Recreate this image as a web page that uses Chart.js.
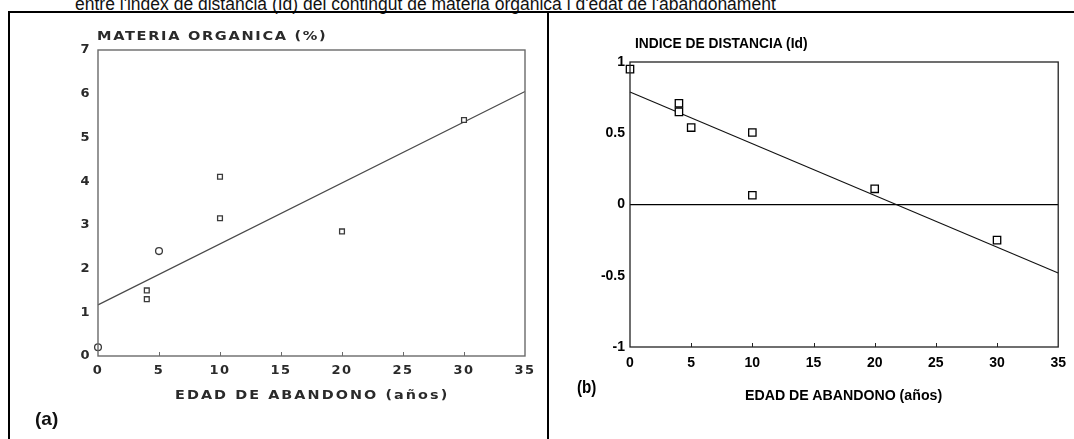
<!DOCTYPE html>
<html>
<head>
<meta charset="utf-8">
<script src="https://cdn.jsdelivr.net/npm/chart.js@4/dist/chart.umd.min.js"></script>
<style>
  html, body { margin: 0; padding: 0; background: #fff; }
  body { width: 1074px; height: 439px; position: relative; overflow: hidden; }
  .txt { position: absolute; white-space: nowrap; line-height: 1; }
  .rule { position: absolute; background: #000; }
  canvas { position: absolute; top: 0; }
  #header { left: 75px; top: -6px; font: 17.5px "Liberation Sans", Arial, sans-serif; color: #111; }
  #titleA { left: 97px; top: 28px; font: bold 13px "DejaVu Sans", sans-serif; color: #2a2a2a;
            letter-spacing: 1.5px; transform: scaleX(1.12); transform-origin: 0 0; }
  #xTitleA { left: 175px; top: 387px; font: bold 12.5px "DejaVu Sans", sans-serif; color: #2a2a2a;
             letter-spacing: 1.8px; transform: scaleX(1.15); transform-origin: 0 0; }
  #tagA { left: 35px; top: 408px; font: bold 19px "Liberation Sans", Arial, sans-serif; color: #111; }
  #titleB { left: 635px; top: 34px; font: bold 15px "Liberation Sans", Arial, sans-serif; color: #000;
            transform: scaleX(0.92); transform-origin: 0 0; }
  #xTitleB { left: 745px; top: 386px; font: bold 15px "Liberation Sans", Arial, sans-serif; color: #000;
             transform: scaleX(0.945); transform-origin: 0 0; }
  #tagB { left: 577px; top: 376px; font: bold 19px "Liberation Sans", Arial, sans-serif; color: #000;
          transform: scaleX(0.8); transform-origin: 0 0; }
</style>
</head>
<body>
<div id="header" class="txt">entre l'index de distancia (Id) del contingut de materia organica i d'edat de l'abandonament</div>

<!-- outer frame and divider between the two panels -->
<div class="rule" style="left:8px; top:11px; width:1066px; height:2px;"></div>
<div class="rule" style="left:8px; top:11px; width:2px; height:428px;"></div>
<div class="rule" style="left:547px; top:11px; width:2px; height:428px;"></div>

<canvas id="chartA" width="547" height="439" style="left:0"></canvas>
<canvas id="chartB" width="525" height="439" style="left:549px"></canvas>

<div id="titleA" class="txt">MATERIA ORGANICA (%)</div>
<div id="xTitleA" class="txt">EDAD DE ABANDONO (años)</div>
<div id="tagA" class="txt">(a)</div>
<div id="titleB" class="txt">INDICE DE DISTANCIA (Id)</div>
<div id="xTitleB" class="txt">EDAD DE ABANDONO (años)</div>
<div id="tagB" class="txt">(b)</div>

<script>
// ---- panel (a): organic matter (%) against years since abandonment ----
const agesA = [0, 4, 4, 5, 10, 10, 20, 30];
const organicMatter = [0.2, 1.5, 1.3, 2.4, 4.1, 3.15, 2.85, 5.4];
const markersA = ['circle', 'rect', 'rect', 'circle', 'rect', 'rect', 'rect', 'rect'];
const fitAgesA = [0, 35];
const fitOrganic = [1.17, 6.05];
const yTicksA = [0, 1, 2, 3, 4, 5, 6, 7];

// ---- panel (b): distance index (Id) against years since abandonment ----
const agesB = [0, 4, 4, 5, 10, 10, 20, 30];
const distanceIndex = [0.95, 0.71, 0.65, 0.54, 0.505, 0.065, 0.11, -0.25];
const fitAgesB = [0, 35];
const fitDistance = [0.79, -0.48];
const yTicksB = [-1, -0.5, 0, 0.5, 1];
const yTickLabelsB = ['-1', '-0.5', '0', '0.5', '1'];

// shared x axis ticks
const xTicks = [0, 5, 10, 15, 20, 25, 30, 35];

const pts = (xs, ys) => xs.map((x, i) => ({ x, y: ys[i] }));

// plot frame plus the short inward tick marks on the bottom axis
function framePlugin(color, width, tickLen) {
  return {
    id: 'frame',
    afterDraw(chart) {
      const { ctx, chartArea: a, scales } = chart;
      ctx.save();
      ctx.strokeStyle = color;
      ctx.lineWidth = width;
      ctx.strokeRect(a.left, a.top, a.right - a.left, a.bottom - a.top);
      ctx.lineWidth = 1;
      xTicks.slice(1, -1).forEach(v => {
        const px = Math.round(scales.x.getPixelForValue(v)) + 0.5;
        ctx.beginPath();
        ctx.moveTo(px, a.bottom);
        ctx.lineTo(px, a.bottom - tickLen);
        ctx.stroke();
      });
      ctx.restore();
    }
  };
}

// wide lettering for the ticks of panel (a)
const spacingPlugin = {
  id: 'spacing',
  beforeDraw(chart) { chart.ctx.letterSpacing = '1.5px'; }
};

function baseOptions(pad, yMin, yMax, tickFont, tickColor, yPad, xPad, yValues, yLabel) {
  return {
    responsive: false,
    animation: false,
    events: [],
    layout: { padding: pad },
    plugins: { legend: { display: false }, tooltip: { enabled: false } },
    elements: { line: { tension: 0 } },
    scales: {
      x: {
        type: 'linear', min: 0, max: 35,
        afterBuildTicks: s => { s.ticks = xTicks.map(v => ({ value: v })); },
        ticks: { font: tickFont, color: tickColor, padding: xPad, maxRotation: 0, autoSkip: false },
        grid: { display: false, drawTicks: false },
        border: { display: false },
        afterFit: s => { s.height = 30; }
      },
      y: {
        type: 'linear', min: yMin, max: yMax,
        afterBuildTicks: s => { s.ticks = yValues.map(v => ({ value: v })); },
        ticks: {
          font: tickFont, color: tickColor, padding: yPad, autoSkip: false,
          callback: v => yLabel(v)
        },
        grid: { display: false, drawTicks: false },
        border: { display: false },
        afterFit: s => { s.width = 40; }
      }
    }
  };
}

// panel (a)
new Chart(document.getElementById('chartA'), {
  type: 'scatter',
  data: {
    datasets: [
      {
        data: pts(agesA, organicMatter),
        pointStyle: markersA,
        pointRadius: 3.4,
        borderColor: '#3a3a3a',
        backgroundColor: '#fff',
        borderWidth: 1.3,
        clip: false
      },
      {
        type: 'line',
        data: pts(fitAgesA, fitOrganic),
        borderColor: '#4a4a4a',
        borderWidth: 1.2,
        pointRadius: 0,
        fill: false,
        clip: false
      }
    ]
  },
  options: baseOptions(
    { left: 58, right: 22, top: 50, bottom: 53 }, 0, 7,
    { family: 'DejaVu Sans', weight: 'bold', size: 13 }, '#2a2a2a', 7, 7,
    yTicksA, v => String(v)
  ),
  plugins: [spacingPlugin, framePlugin('#6a6a6a', 1.4, 4)]
});

// panel (b)
const optsB = baseOptions(
  { left: 41, right: 15, top: 62, bottom: 62 }, -1, 1,
  { family: 'Liberation Sans', weight: 'bold', size: 14 }, '#000', 5, 8,
  yTicksB, v => yTickLabelsB[yTicksB.indexOf(v)]
);
// horizontal reference line at Id = 0
optsB.scales.y.grid = {
  display: true, drawTicks: false,
  color: c => (c.tick && c.tick.value === 0 ? '#000' : 'rgba(0,0,0,0)'),
  lineWidth: 1.2
};

new Chart(document.getElementById('chartB'), {
  type: 'scatter',
  data: {
    datasets: [
      {
        data: pts(agesB, distanceIndex),
        pointStyle: 'rect',
        pointRadius: 5.2,
        borderColor: '#000',
        backgroundColor: '#fff',
        borderWidth: 1.3,
        clip: false
      },
      {
        type: 'line',
        data: pts(fitAgesB, fitDistance),
        borderColor: '#111',
        borderWidth: 1.1,
        pointRadius: 0,
        fill: false,
        clip: false,
        order: 1
      }
    ]
  },
  options: optsB,
  plugins: [framePlugin('#222', 1.3, 4)]
});
</script>
</body>
</html>
